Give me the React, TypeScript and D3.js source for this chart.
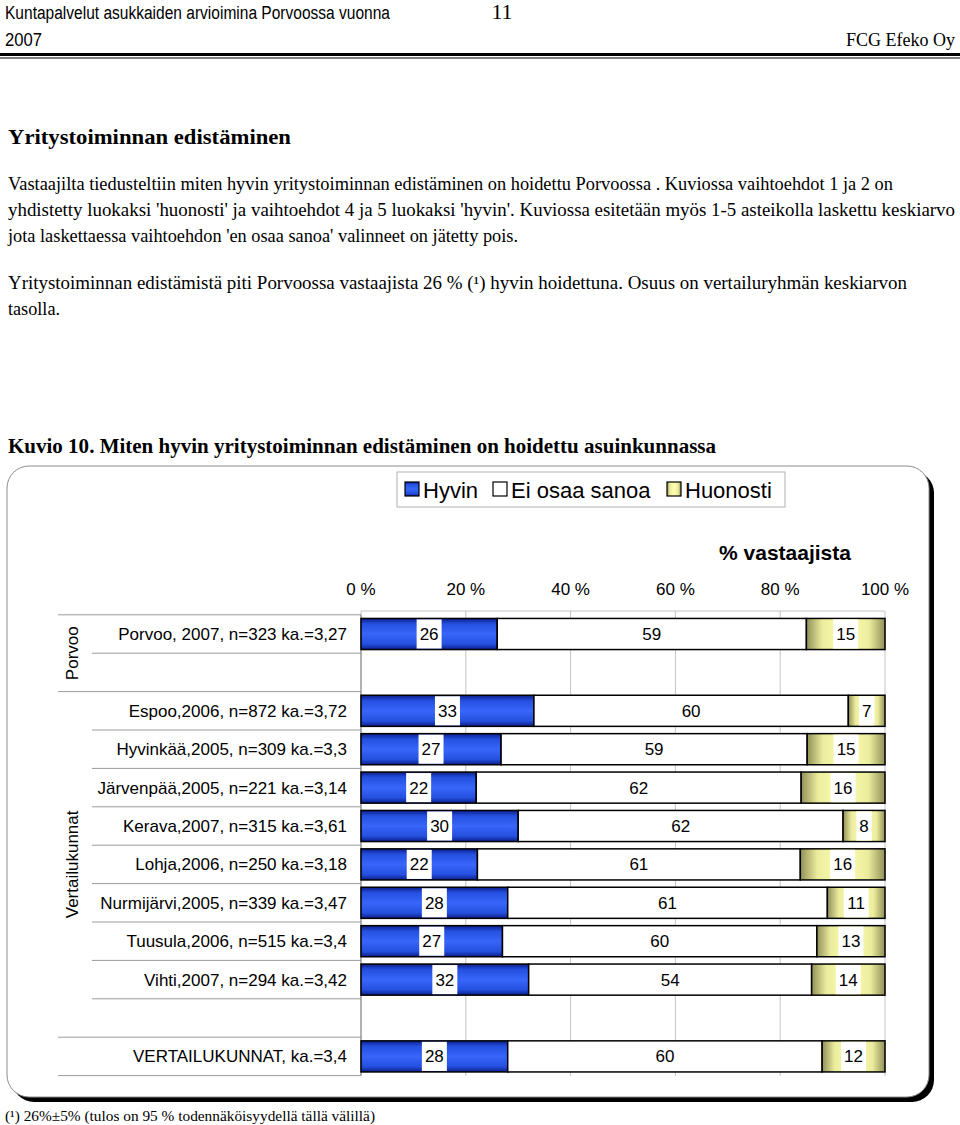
import React, { useEffect, useRef } from 'react';
import * as d3 from 'd3';

// data
const rowLabels = [
  'Porvoo, 2007, n=323 ka.=3,27',
  'Espoo,2006, n=872 ka.=3,72',
  'Hyvinkää,2005, n=309 ka.=3,3',
  'Järvenpää,2005, n=221 ka.=3,14',
  'Kerava,2007, n=315 ka.=3,61',
  'Lohja,2006, n=250 ka.=3,18',
  'Nurmijärvi,2005, n=339 ka.=3,47',
  'Tuusula,2006, n=515 ka.=3,4',
  'Vihti,2007, n=294 ka.=3,42',
  'VERTAILUKUNNAT, ka.=3,4',
];
const hyvin = [26, 33, 27, 22, 30, 22, 28, 27, 32, 28];
const eiOsaa = [59, 60, 59, 62, 62, 61, 61, 60, 54, 60];
const huonosti = [15, 7, 15, 16, 8, 16, 11, 13, 14, 12];
const seriesNames = ['Hyvin', 'Ei osaa sanoa', 'Huonosti'];
// slot order on the category axis ('' = empty slot)
const slots = ['0', '', '1', '2', '3', '4', '5', '6', '7', '8', '', '9'];
const groups = [
  { label: 'Porvoo', from: 0, to: 2 },
  { label: 'Vertailukunnat', from: 2, to: 11 },
  { label: '', from: 11, to: 12 },
];
const xTicks = [0, 20, 40, 60, 80, 100];

const sans = "'Liberation Sans', Arial, sans-serif";
const serif = "'Liberation Serif', 'Times New Roman', Times, serif";

const App: React.FC = () => {
  const ref = useRef<SVGSVGElement>(null);

  useEffect(() => {
    if (!ref.current) return;
    const svg = d3.select(ref.current);
    svg.selectAll('*').remove();

    const width = 960;
    const height = 1125;
    svg.attr('width', width).attr('height', height);

    // ---- page header + text ----
    const txt = (x: number, y: number, s: string, size: number, opts: any = {}) => {
      const t = svg.append('text')
        .attr('x', x).attr('y', y)
        .style('font-family', opts.family || serif)
        .attr('font-size', size)
        .attr('font-weight', opts.bold ? 'bold' : 'normal')
        .attr('text-anchor', opts.anchor || 'start')
        .attr('fill', '#000')
        .text(s);
      if (opts.len) t.attr('textLength', opts.len).attr('lengthAdjust', 'spacingAndGlyphs');
      return t;
    };

    txt(5, 19, 'Kuntapalvelut asukkaiden arvioimina Porvoossa vuonna', 18, { family: sans, len: 385 });
    txt(5, 46, '2007', 18, { family: sans, len: 37 });
    txt(502, 19, '11', 22, { anchor: 'middle' });
    txt(955, 46, 'FCG Efeko Oy', 18, { anchor: 'end' });
    svg.append('rect').attr('x', 0).attr('y', 53).attr('width', 960).attr('height', 3).attr('fill', '#000');
    svg.append('rect').attr('x', 0).attr('y', 57.5).attr('width', 960).attr('height', 1).attr('fill', '#000');

    txt(8, 144, 'Yritystoiminnan edistäminen', 22, { bold: true, len: 283 });
    txt(8, 190, 'Vastaajilta tiedusteltiin miten hyvin yritystoiminnan edistäminen on hoidettu Porvoossa . Kuviossa vaihtoehdot 1 ja 2 on', 18, { len: 885 });
    txt(8, 216, "yhdistetty luokaksi 'huonosti' ja vaihtoehdot 4 ja 5 luokaksi 'hyvin'. Kuviossa esitetään myös 1-5 asteikolla laskettu keskiarvo", 18, { len: 947 });
    txt(8, 242, "jota laskettaessa vaihtoehdon 'en osaa sanoa' valinneet on jätetty pois.", 18, { len: 510 });
    txt(8, 289, 'Yritystoiminnan edistämistä piti Porvoossa vastaajista 26 % (¹) hyvin hoidettuna. Osuus on vertailuryhmän keskiarvon', 18, { len: 899 });
    txt(8, 315, 'tasolla.', 18, { len: 52 });
    txt(8, 453, 'Kuvio 10. Miten hyvin yritystoiminnan edistäminen on hoidettu asuinkunnassa', 21, { bold: true, len: 708 });
    txt(5, 1121, '(¹) 26%±5% (tulos on 95 % todennäköisyydellä tällä välillä)', 15, { len: 370 });

    // ---- chart frame ----
    const fx = 7, fy = 466, fw = 922, fh = 631;
    svg.append('rect').attr('x', fx + 5).attr('y', fy + 5).attr('width', fw).attr('height', fh)
      .attr('rx', 22).attr('fill', '#000');
    svg.append('rect').attr('x', fx).attr('y', fy).attr('width', fw).attr('height', fh)
      .attr('rx', 22).attr('fill', '#fff').attr('stroke', '#8c8c8c').attr('stroke-width', 1);

    // gradients
    const defs = svg.append('defs');
    const blue = defs.append('linearGradient').attr('id', 'gBlue').attr('x1', 0).attr('y1', 0).attr('x2', 0).attr('y2', 1);
    [[0, '#0b1f8a'], [0.18, '#2550e0'], [0.5, '#3866fa'], [0.82, '#2550e0'], [1, '#0b1f8a']]
      .forEach(([o, c]) => blue.append('stop').attr('offset', o as number).attr('stop-color', c as string));
    const yellow = defs.append('linearGradient').attr('id', 'gYellow').attr('x1', 0).attr('y1', 0).attr('x2', 1).attr('y2', 0);
    [[0, '#909058'], [0.2, '#ecec9e'], [0.5, '#ffffb0'], [0.8, '#ecec9e'], [1, '#909058']]
      .forEach(([o, c]) => yellow.append('stop').attr('offset', o as number).attr('stop-color', c as string));
    const fills = ['url(#gBlue)', '#fff', 'url(#gYellow)'];

    // scales
    const x = d3.scaleLinear().domain([0, 100]).range([361, 885]);
    const slotKeys = slots.map((s, i) => `${i}:${s}`);
    const y = d3.scaleBand().domain(slotKeys).range([614.8, 1075.6]).paddingInner(0.19).paddingOuter(0.095);
    const step = y.step();
    const y0 = 614.8;

    // legend
    const lg = svg.append('g');
    lg.append('rect').attr('x', 397).attr('y', 472).attr('width', 388).attr('height', 35)
      .attr('fill', '#fff').attr('stroke', '#b0b0b0');
    const legendX = [405, 493, 667];
    seriesNames.forEach((name, i) => {
      lg.append('rect').attr('x', legendX[i]).attr('y', 482).attr('width', 14).attr('height', 14)
        .attr('fill', fills[i]).attr('stroke', '#000').attr('stroke-width', 1.2);
      lg.append('text').attr('x', legendX[i] + 18).attr('y', 498)
        .style('font-family', sans).attr('font-size', 22).text(name);
    });

    // axis title + ticks
    svg.append('text').attr('x', 785).attr('y', 560).attr('text-anchor', 'middle')
      .style('font-family', sans).attr('font-size', 21).attr('font-weight', 'bold').text('% vastaajista');
    const plot = svg.append('g');
    plot.selectAll('.tick-label').data(xTicks).enter().append('text')
      .attr('x', d => x(d)).attr('y', 595).attr('text-anchor', 'middle')
      .style('font-family', sans).attr('font-size', 17).text(d => `${d} %`);

    // gridlines
    plot.selectAll('.grid').data(xTicks).enter().append('line')
      .attr('x1', d => x(d)).attr('x2', d => x(d)).attr('y1', 611).attr('y2', 1076)
      .attr('stroke', '#c4c4c4').attr('stroke-width', 1);
    plot.append('line').attr('x1', 361).attr('x2', 885).attr('y1', 611).attr('y2', 611)
      .attr('stroke', '#c4c4c4');

    // category axis separators
    const sep = svg.append('g').attr('stroke', '#9a9a9a').attr('stroke-width', 1);
    const groupEdges = new Set<number>();
    groups.forEach(g => { groupEdges.add(g.from); groupEdges.add(g.to); });
    for (let k = 0; k <= slots.length; k++) {
      const yy = y0 + k * step;
      sep.append('line').attr('x1', groupEdges.has(k) ? 58 : 92).attr('x2', 361)
        .attr('y1', yy).attr('y2', yy);
    }
    sep.append('line').attr('x1', 361).attr('x2', 361).attr('y1', y0).attr('y2', y0 + slots.length * step)
      .attr('stroke', '#808080');

    // group labels
    groups.filter(g => g.label).forEach(g => {
      const cy = y0 + ((g.from + g.to) / 2) * step;
      svg.append('text').attr('transform', `translate(78, ${cy}) rotate(-90)`)
        .attr('text-anchor', 'middle').style('font-family', sans).attr('font-size', 17).text(g.label);
    });

    // rows
    slots.forEach((s, si) => {
      if (s === '') return;
      const i = +s;
      const key = slotKeys[si];
      const by = y(key)!;
      const bh = y.bandwidth();
      const cy = by + bh / 2;

      svg.append('text').attr('x', 347).attr('y', cy + 6).attr('text-anchor', 'end')
        .style('font-family', sans).attr('font-size', 17).text(rowLabels[i]);

      const vals = [hyvin[i], eiOsaa[i], huonosti[i]];
      const total = d3.sum(vals);
      let acc = 0;
      vals.forEach((v, j) => {
        const a = x((acc / total) * 100);
        const b = x(((acc + v) / total) * 100);
        acc += v;
        svg.append('rect').attr('x', a).attr('y', by).attr('width', b - a).attr('height', bh)
          .attr('fill', fills[j]).attr('stroke', '#000').attr('stroke-width', 1.5);
        const mid = (a + b) / 2;
        const label = String(v);
        const tw = label.length * 9.5 + 6;
        if (j !== 1) {
          svg.append('rect').attr('x', mid - tw / 2).attr('y', by + 1).attr('width', tw).attr('height', bh - 2)
            .attr('fill', '#fff');
        }
        svg.append('text').attr('x', mid).attr('y', cy + 6).attr('text-anchor', 'middle')
          .style('font-family', sans).attr('font-size', 17).text(label);
      });
    });
  }, []);

  return (
    <div style={{ position: 'absolute', left: 0, top: 0, background: '#fff' }}>
      <svg ref={ref} style={{ display: 'block' }}></svg>
    </div>
  );
};

export default App;
